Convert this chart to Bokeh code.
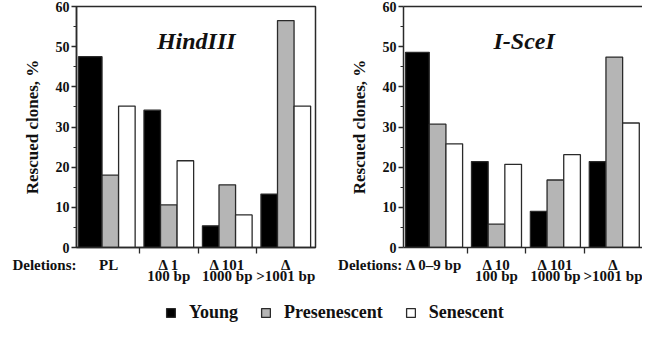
from bokeh.plotting import figure
from bokeh.models import (Range1d, FixedTicker, LinearAxis, Label, Legend, LegendItem,
                          ColumnDataSource)
from bokeh.layouts import column, row
from bokeh.embed import file_html
from bokeh.resources import INLINE

# ---------------- data ----------------
series_names = ["Young", "Presenescent", "Senescent"]
row_caption = "Deletions:"
hind_categories = ["PL", "Δ 1\n100 bp", "Δ 101\n1000 bp", "Δ\n>1001 bp"]
hind_young = [47.5, 34.2, 5.4, 13.3]
hind_presenescent = [18.0, 10.6, 15.6, 56.5]
hind_senescent = [35.2, 21.6, 8.1, 35.2]

isce_categories = ["Δ 0–9 bp", "Δ 10\n100 bp", "Δ 101\n1000 bp", "Δ\n>1001 bp"]
isce_young = [48.6, 21.4, 9.0, 21.4]
isce_presenescent = [30.7, 5.8, 16.8, 47.4]
isce_senescent = [25.8, 20.7, 23.1, 31.0]

y_ticks = [0, 10, 20, 30, 40, 50, 60]

FONT = "Liberation Serif"
LINE = "#2a2a2a"
TXT = "#111111"
FILLS = ["#000000", "#b5b5b5", "#ffffff"]
BAR_W = 0.283
P_H = 303
B_TOP = 6
B_BOT = 56
NB = "\u00a0"


def panel(title, cats, series, width, x_start, x_end, border_left, border_right, outline,
          gap_nb, pad_nb):
    n = len(cats)
    p = figure(width=width, height=P_H, output_backend="svg", toolbar_location=None,
               x_range=Range1d(x_start, x_end), y_range=Range1d(0, 60),
               min_border_left=border_left, min_border_right=border_right,
               min_border_top=B_TOP, min_border_bottom=B_BOT,
               x_axis_location=None, y_axis_location=None)
    p.grid.visible = False
    p.background_fill_color = "white"
    p.border_fill_color = "white"
    if outline:
        p.outline_line_color = LINE
        p.outline_line_width = 1.5
    else:
        p.outline_line_color = None
        top = LinearAxis(ticker=FixedTicker(ticks=[]),
                         axis_line_color=LINE, axis_line_width=1.5,
                         major_tick_out=0, minor_tick_out=0, major_label_standoff=0)
        p.add_layout(top, "above")

    # bars
    for k, (vals, fill) in enumerate(zip(series, FILLS)):
        off = (k - 1) * BAR_W
        lefts = [i + off - BAR_W / 2 for i in range(n)]
        rights = [i + off + BAR_W / 2 for i in range(n)]
        if k == 0:
            lefts[0] = x_start + 0.035
        src = ColumnDataSource(dict(left=lefts, right=rights, top=vals, bottom=[0] * n))
        p.quad(left="left", right="right", top="top", bottom="bottom", source=src,
               fill_color=fill, line_color=LINE, line_width=1.3)

    # y axis
    yax = LinearAxis(ticker=FixedTicker(ticks=y_ticks, minor_ticks=[v + 5 for v in y_ticks[:-1]]),
                     axis_label="Rescued clones, %",
                     axis_label_text_font=FONT, axis_label_text_font_style="bold",
                     axis_label_text_font_size="17px", axis_label_text_color=TXT,
                     axis_label_standoff=11,
                     major_label_text_font=FONT, major_label_text_font_style="bold",
                     major_label_text_font_size="14px", major_label_text_color=TXT,
                     major_label_standoff=2,
                     axis_line_color=LINE, axis_line_width=1.5,
                     major_tick_line_color=LINE, major_tick_line_width=1.3,
                     major_tick_out=5, major_tick_in=0,
                     minor_tick_line_color=LINE, minor_tick_line_width=1.2,
                     minor_tick_out=3, minor_tick_in=0)
    p.add_layout(yax, "left")

    # x axis: group separator ticks (no labels)
    seps = [i + 0.5 for i in range(n - 1)]
    xax = LinearAxis(ticker=FixedTicker(ticks=seps),
                     major_label_overrides={s: "" for s in seps},
                     major_label_text_font_size="1px", major_label_standoff=0,
                     axis_line_color=LINE, axis_line_width=1.5,
                     major_tick_line_color=LINE, major_tick_line_width=1.3,
                     major_tick_out=6, major_tick_in=0, minor_tick_out=0)
    p.add_layout(xax, "below")

    # x axis: category labels; the row caption shares the first label line,
    # padded with no-break spaces so the category name stays centred on its group
    labels = {i: c for i, c in enumerate(cats)}
    labels[0] = row_caption + NB * gap_nb + cats[0] + NB * pad_nb
    lab = LinearAxis(ticker=FixedTicker(ticks=list(range(n))),
                     major_label_overrides=labels,
                     major_label_text_font=FONT, major_label_text_font_style="bold",
                     major_label_text_font_size="15px", major_label_text_color=TXT,
                     major_label_text_line_height=0.72,
                     major_label_standoff=3,
                     axis_line_color=None, major_tick_line_color=None,
                     major_tick_out=0, minor_tick_out=0)
    p.add_layout(lab, "below")

    p.add_layout(Label(x=1.47, y=51.5, text=title, text_font=FONT, text_font_style="bold italic",
                       text_font_size="24px", text_align="center", text_baseline="middle",
                       text_color=TXT))
    return p


p1 = panel("HindIII", hind_categories, [hind_young, hind_presenescent, hind_senescent],
           325, -0.578, 3.508, 76, 10, True, 6, 24)
p2 = panel("I-SceI", isce_categories, [isce_young, isce_presenescent, isce_senescent],
           317, -0.579, 3.479, 78, 0, False, 1, 20)

# legend strip: legend-only renderers (series values with no x position, so nothing is drawn)
p3 = figure(width=642, height=323 - P_H, output_backend="svg", toolbar_location=None,
            x_range=Range1d(0, 1), y_range=Range1d(0, 1),
            x_axis_location=None, y_axis_location=None, min_border=0)
p3.grid.visible = False
p3.outline_line_color = None
items = []
for name, vals, fill in zip(series_names, [hind_young, hind_presenescent, hind_senescent], FILLS):
    r = p3.vbar(x=[float("nan")] * len(vals), top=vals, width=0.2, fill_color=fill,
                line_color=LINE, line_width=1.3)
    items.append(LegendItem(label=name, renderers=[r]))
leg = Legend(items=items, orientation="horizontal", location=(165, 0),
             label_text_font=FONT, label_text_font_style="bold", label_text_font_size="18px",
             label_text_color=TXT, glyph_width=11, glyph_height=11,
             label_standoff=13, spacing=22, padding=0, margin=0,
             border_line_color=None, background_fill_alpha=0)
p3.add_layout(leg, "center")

layout = column(row(p1, p2), p3)
open("out.html", "w").write(file_html(layout, INLINE))
